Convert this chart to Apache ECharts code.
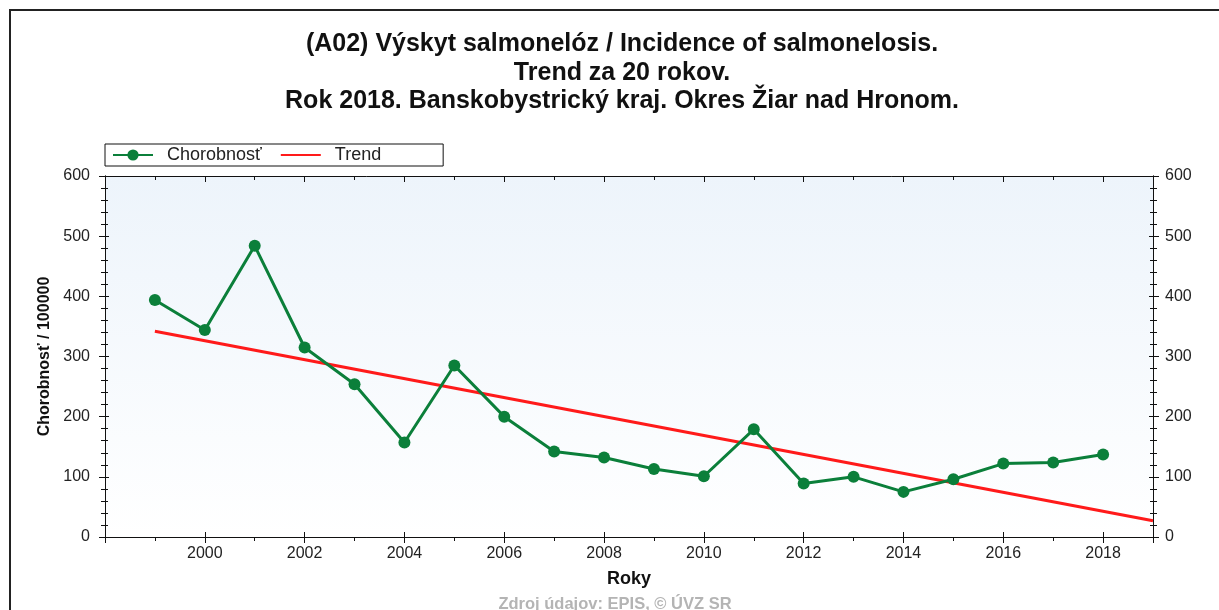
<!DOCTYPE html>
<html><head><meta charset="utf-8">
<script src="https://cdn.jsdelivr.net/npm/echarts@6/dist/echarts.min.js"></script>
<style>html,body{margin:0;padding:0;background:#fff}#c{width:1219px;height:610px}</style>
</head><body><div id="c"></div>
<script>
const years = [1999,2000,2001,2002,2003,2004,2005,2006,2007,2008,2009,2010,2011,2012,2013,2014,2015,2016,2017,2018];
const incidence = [394,344,484,315,254,157,285,200,142,132,113,101,179,89,100,75,96,122,124,137];
const trendYears = [1999, 2019];
const trendValues = [342, 27];
const yTicks = [0,100,200,300,400,500,600];

const chart = echarts.init(document.getElementById('c'));
const font = 'Liberation Sans, Arial, sans-serif';
const ink = '#111';
const axisLineStyle = {color:ink, width:1};
function xAx(extra){
  return Object.assign({
    type:'value', min:1998, max:2019, interval:2,
    axisLine:{show:true, onZero:false, lineStyle:axisLineStyle},
    axisTick:{show:true, length:6, lineStyle:{color:ink}},
    minorTick:{show:true, splitNumber:2, length:4, lineStyle:{color:ink}},
    axisLabel:{show:false}, splitLine:{show:false}, minorSplitLine:{show:false}
  }, extra);
}
function yAx(extra){
  return Object.assign({
    type:'value', min:0, max:600, interval:100,
    axisLine:{show:true, onZero:false, lineStyle:axisLineStyle},
    axisTick:{show:true, length:6, lineStyle:{color:ink}},
    minorTick:{show:true, splitNumber:5, length:4, lineStyle:{color:ink}},
    axisLabel:{show:false}, splitLine:{show:false}, minorSplitLine:{show:false}
  }, extra);
}
chart.setOption({
  animation:false,
  backgroundColor:'#fff',
  title:{
    text:'(A02) Výskyt salmonelóz / Incidence of salmonelosis.\nTrend za 20 rokov.\nRok 2018. Banskobystrický kraj. Okres Žiar nad Hronom.',
    left:617, top:25, textAlign:'center',
    textStyle:{fontFamily:font, fontSize:25, fontWeight:'bold', color:ink, lineHeight:28.5}
  },
  graphic:[
    {type:'rect', shape:{x:10,y:10,width:1230,height:640}, style:{fill:null, stroke:'#222', lineWidth:2}, silent:true},
    {type:'text', x:615, y:604, style:{text:'Zdroj údajov: EPIS, © ÚVZ SR', font:'bold 16.5px '+font, fill:'#b4b4b4', textAlign:'center', textVerticalAlign:'middle'}}
  ],
  legend:{
    left:105, top:144,
    padding:[2,62,2,7],
    borderColor:ink, borderWidth:1,
    itemWidth:40, itemHeight:14, itemGap:18,
    textStyle:{fontFamily:font, fontSize:18, color:'#222', padding:[0,0,0,9]},
    data:['Chorobnosť', {name:'Trend', itemStyle:{opacity:0}}]
  },
  grid:{left:105, right:66, top:176, bottom:73, show:true, borderWidth:0,
    backgroundColor:{type:'linear',x:0,y:0,x2:0,y2:1,colorStops:[{offset:0,color:'#edf4fb'},{offset:1,color:'#ffffff'}]}},
  xAxis:[
    xAx({position:'bottom',
      name:'Roky', nameLocation:'middle', nameGap:33,
      nameTextStyle:{fontFamily:font, fontSize:18, fontWeight:'bold', color:ink},
      axisLabel:{show:true, fontFamily:font, fontSize:16, color:'#222', margin:9,
        formatter:v => (v>1998 && v<2019 && v%2===0) ? String(v) : ''}}),
    xAx({position:'top', axisTick:{show:true, inside:true, length:6, lineStyle:{color:ink}},
      minorTick:{show:true, splitNumber:2, length:4, lineStyle:{color:ink}}}),
    xAx({position:'bottom', axisTick:{show:true, inside:true, length:5, lineStyle:{color:ink}},
      minorTick:{show:false}})
  ],
  yAxis:[
    yAx({position:'left',
      name:'Chorobnosť / 100000', nameLocation:'middle', nameGap:50, nameRotate:90,
      nameTextStyle:{fontFamily:font, fontSize:16, fontWeight:'bold', color:ink},
      axisLabel:{show:true, fontFamily:font, fontSize:16, color:'#222', margin:15,
        formatter:v => yTicks.includes(v) ? String(v) : ''}}),
    yAx({position:'right',
      axisLabel:{show:true, fontFamily:font, fontSize:16, color:'#222', margin:12,
        formatter:v => yTicks.includes(v) ? String(v) : ''}}),
    yAx({position:'left', axisTick:{show:true, inside:true, length:4, lineStyle:{color:ink}},
      minorTick:{show:true, splitNumber:5, length:3, lineStyle:{color:ink}}}),
    yAx({position:'right', axisTick:{show:true, inside:true, length:4, lineStyle:{color:ink}},
      minorTick:{show:true, splitNumber:5, length:3, lineStyle:{color:ink}}})
  ],
  series:[{
    name:'Chorobnosť', type:'line',
    data:years.map((y,i)=>[y,incidence[i]]),
    symbol:'circle', symbolSize:12,
    lineStyle:{color:'#0b7f3a', width:3},
    itemStyle:{color:'#0b7f3a'},
    z:3
  },{
    name:'Trend', type:'line',
    data:trendYears.map((y,i)=>[y,trendValues[i]]),
    symbol:'none', showSymbol:false,
    lineStyle:{color:'#ff1a1a', width:3},
    itemStyle:{color:'#ff1a1a'},
    z:2
  }]
});
</script></body></html>
